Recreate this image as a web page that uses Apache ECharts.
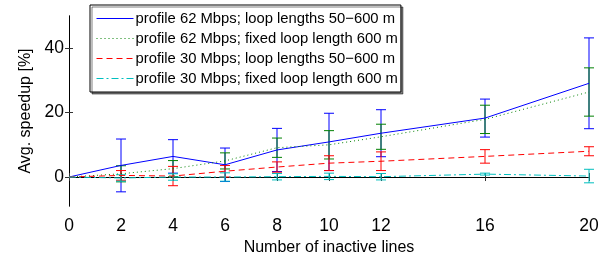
<!DOCTYPE html>
<html>
<head>
<meta charset="utf-8">
<script src="https://cdn.jsdelivr.net/npm/echarts@6/dist/echarts.min.js"></script>
<style>
  html, body { margin: 0; padding: 0; background: #fff; }
  #chart { width: 602px; height: 256px; }
</style>
</head>
<body>
<div id="chart"></div>
<script>
// number of inactive lines
var xs = [0, 2, 4, 6, 8, 10, 12, 16, 20];
var xTicks = [0, 2, 4, 6, 8, 10, 12, 16, 20];
var yTicks = [0, 20, 40];

var names = [
  'profile 62 Mbps; loop lengths 50\u2212600 m',
  'profile 62 Mbps; fixed loop length 600 m',
  'profile 30 Mbps; loop lengths 50\u2212600 m',
  'profile 30 Mbps; fixed loop length 600 m'
];

// mean speedup [%] and error (half length of bar)
var p62Var = [0, 3.6, 6.4, 3.8, 8.4, 10.9, 13.6, 18.3, 29.1];
var p62VarErr = [0, 8.2, 5.2, 5.2, 6.7, 8.9, 7.3, 5.9, 14.1];
var p62Fix = [0, 1.0, 2.6, 5.0, 9.1, 10.0, 12.5, 17.9, 26.4];
var p62FixErr = [0, 2.5, 2.5, 2.5, 3.0, 4.4, 3.9, 4.4, 7.5];
var p30Var = [0, 0.5, 0.3, 1.8, 3.1, 4.3, 4.9, 6.4, 8.0];
var p30VarErr = [0, 1.5, 3.0, 1.8, 1.6, 2.3, 2.9, 2.1, 1.4];
var p30Fix = [0, -0.3, 0, 0, 0.1, 0.2, 0.1, 0.9, 0.3];
var p30FixErr = [0, 1.0, 1.0, 1.3, 1.0, 1.0, 1.0, 0.3, 2.1];

var colors = ['#0000ff', '#008000', '#ff0000', '#00bfbf'];
var dashes = ['solid', [1, 3], [6, 4], [7, 3, 2, 3]];
var means = [p62Var, p62Fix, p30Var, p30Fix];
var errs = [p62VarErr, p62FixErr, p30VarErr, p30FixErr];

var font = 'Liberation Sans, Arial, sans-serif';

function errorBar(params, api) {
  var x = api.value(0), y = api.value(1), e = api.value(2);
  if (!e) return;
  var top = api.coord([x, y + e]);
  var bot = api.coord([x, y - e]);
  var w = 5;
  var st = { stroke: api.visual('color'), lineWidth: 1 };
  return {
    type: 'group',
    children: [
      { type: 'line', shape: { x1: top[0], y1: top[1], x2: bot[0], y2: bot[1] }, style: st },
      { type: 'line', shape: { x1: top[0] - w, y1: top[1], x2: top[0] + w, y2: top[1] }, style: st },
      { type: 'line', shape: { x1: bot[0] - w, y1: bot[1], x2: bot[0] + w, y2: bot[1] }, style: st }
    ]
  };
}

var series = [];
for (var i = 0; i < names.length; i++) {
  series.push({
    name: 'err' + i,
    type: 'custom',
    renderItem: errorBar,
    itemStyle: { color: colors[i] },
    encode: { x: 0, y: 1 },
    data: xs.map(function (x, k) { return [x, means[i][k], errs[i][k]]; }),
    z: 2
  });
}
for (var i = 0; i < names.length; i++) {
  series.push({
    name: names[i],
    type: 'line',
    symbol: 'none',
    color: colors[i],
    lineStyle: { color: colors[i], width: 1, type: dashes[i] },
    data: xs.map(function (x, k) { return [x, means[i][k]]; }),
    z: 3
  });
}

var axisLineStyle = { lineStyle: { color: '#000', width: 1 } };
var tickStyle = { inside: true, length: 4, lineStyle: { color: '#333' } };

var option = {
  animation: false,
  grid: { left: 69, right: 13, top: 16, bottom: 50, outerBoundsMode: 'none', containLabel: false },
  legend: {
    data: names.map(function (n, i) {
      return { name: n, lineStyle: { color: colors[i], width: 1, type: dashes[i], shadowBlur: 0, shadowOffsetX: 0, shadowOffsetY: 0, shadowColor: 'transparent' } };
    }),
    orient: 'vertical',
    left: 90,
    top: 5,
    itemWidth: 37,
    itemHeight: 13,
    itemGap: 5,
    padding: [6, 3, 6, 6],
    itemStyle: { opacity: 0 },
    backgroundColor: '#fff',
    borderColor: '#000',
    borderWidth: 1,
    shadowColor: 'rgba(0,0,0,0.5)',
    shadowOffsetX: 2,
    shadowOffsetY: 2,
    shadowBlur: 0,
    textStyle: { fontSize: 14.8, color: '#000', fontFamily: font, padding: [0, 0, 0, -3] }
  },
  xAxis: [{
    type: 'value', min: 0, max: 20,
    name: 'Number of inactive lines',
    nameLocation: 'middle', nameGap: 33,
    nameTextStyle: { fontSize: 16, color: '#000', fontFamily: font },
    axisLine: axisLineStyle,
    axisTick: Object.assign({ customValues: xTicks }, tickStyle),
    axisLabel: { customValues: xTicks, fontSize: 17.5, color: '#000', fontFamily: font, margin: 11 },
    splitLine: { show: false }
  }, {
    type: 'value', min: 0, max: 20, position: 'top',
    axisLine: axisLineStyle,
    axisTick: Object.assign({ customValues: xTicks }, tickStyle),
    axisLabel: { show: false },
    splitLine: { show: false }
  }],
  yAxis: [{
    type: 'value', min: -9, max: 50,
    name: 'Avg. speedup [%]',
    nameLocation: 'middle', nameGap: 25, nameRotate: 90,
    nameTextStyle: { fontSize: 16, color: '#000', fontFamily: font },
    axisLine: axisLineStyle,
    axisTick: Object.assign({ customValues: yTicks }, tickStyle),
    axisLabel: { customValues: yTicks, fontSize: 17.5, color: '#000', fontFamily: font, margin: 5 },
    splitLine: { show: false }
  }, {
    type: 'value', min: -9, max: 50, position: 'right',
    axisLine: axisLineStyle,
    axisTick: Object.assign({ customValues: yTicks }, tickStyle),
    axisLabel: { show: false },
    splitLine: { show: false }
  }],
  series: series
};

var chart = echarts.init(document.getElementById('chart'));
chart.setOption(option);
</script>
</body>
</html>
